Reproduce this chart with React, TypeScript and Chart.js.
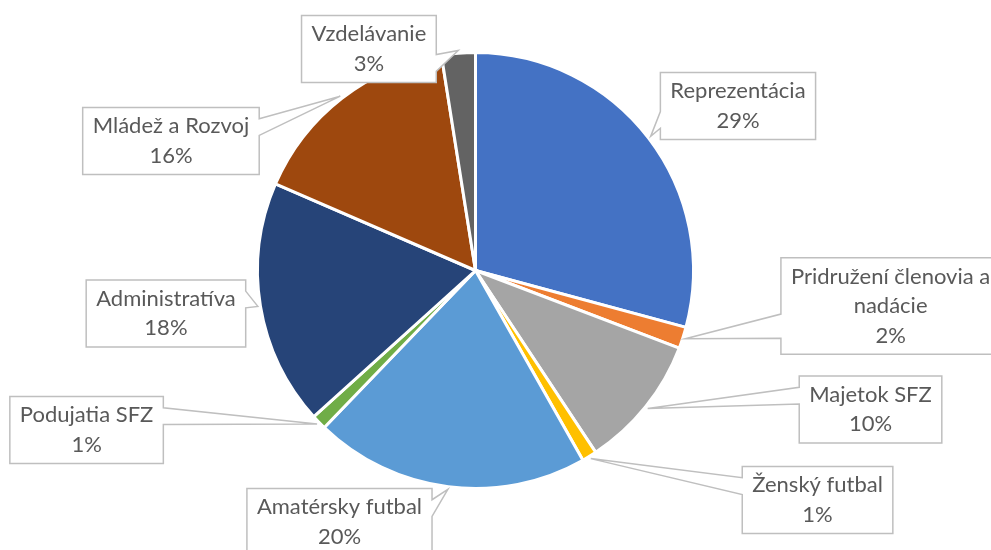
import React, { useEffect, useRef } from "react";
import { Chart, registerables } from "chart.js";

Chart.register(...registerables);

const categories = [
  "Reprezentácia",
  "Pridružení členovia a nadácie",
  "Majetok SFZ",
  "Ženský futbal",
  "Amatérsky futbal",
  "Podujatia SFZ",
  "Administratíva",
  "Mládež a Rozvoj",
  "Vzdelávanie",
];

const shares = [29.2, 1.6, 9.9, 1.1, 20.4, 1.1, 18.2, 16.0, 2.5];

const sliceColors = [
  "#4472C4",
  "#ED7D31",
  "#A5A5A5",
  "#FFC000",
  "#5B9BD5",
  "#70AD47",
  "#264478",
  "#9E480E",
  "#636363",
];

// Callout box centres, as offsets from the pie centre in units of the pie radius
const calloutOffsets = [
  [1.204, -0.755],
  [1.904, 0.163],
  [1.812, 0.638],
  [1.569, 1.053],
  [-0.624, 1.154],
  [-1.784, 0.732],
  [-1.42, 0.197],
  [-1.397, -0.594],
  [-0.489, -1.016],
];

const FONT = "22px Lato, 'Open Sans', sans-serif";
const LINE_H = 29.5;

function wrapText(ctx: CanvasRenderingContext2D, text: string, maxW: number): string[] {
  const words = text.split(" ");
  const lines: string[] = [];
  let cur = "";
  for (const w of words) {
    const test = cur ? cur + " " + w : w;
    if (cur && ctx.measureText(test).width > maxW) {
      lines.push(cur);
      cur = w;
    } else {
      cur = test;
    }
  }
  if (cur) lines.push(cur);
  return lines;
}

function calloutPath(
  ctx: CanvasRenderingContext2D,
  l: number,
  t: number,
  w: number,
  h: number,
  px: number,
  py: number
) {
  const r = l + w;
  const b = t + h;
  const hc = l + w / 2;
  const vc = t + h / 2;
  const dx = px - hc;
  const dy = py - vc;
  const dq = (dx * h) / w;
  const dz = Math.abs(dy) - Math.abs(dq);
  const xg1 = dx > 0 ? 7 : 2;
  const xg2 = dx > 0 ? 10 : 5;
  const x1 = l + (w * xg1) / 12;
  const x2 = l + (w * xg2) / 12;
  const yg1 = dy > 0 ? 7 : 2;
  const yg2 = dy > 0 ? 10 : 5;
  const y1 = t + (h * yg1) / 12;
  const y2 = t + (h * yg2) / 12;
  const xl = dz > 0 ? l : dx > 0 ? l : px;
  const yl = dz > 0 ? y1 : dx > 0 ? y1 : py;
  const xt = dz > 0 ? (dy > 0 ? x1 : px) : x1;
  const yt = dz > 0 ? (dy > 0 ? t : py) : t;
  const xr = dz > 0 ? r : dx > 0 ? px : r;
  const yr = dz > 0 ? y1 : dx > 0 ? py : y1;
  const xb = dz > 0 ? (dy > 0 ? px : x1) : x1;
  const yb = dz > 0 ? (dy > 0 ? py : b) : b;
  ctx.beginPath();
  ctx.moveTo(l, t);
  ctx.lineTo(x1, t);
  ctx.lineTo(xt, yt);
  ctx.lineTo(x2, t);
  ctx.lineTo(r, t);
  ctx.lineTo(r, y1);
  ctx.lineTo(xr, yr);
  ctx.lineTo(r, y2);
  ctx.lineTo(r, b);
  ctx.lineTo(x2, b);
  ctx.lineTo(xb, yb);
  ctx.lineTo(x1, b);
  ctx.lineTo(l, b);
  ctx.lineTo(l, y2);
  ctx.lineTo(xl, yl);
  ctx.lineTo(l, y1);
  ctx.closePath();
}

const calloutPlugin = {
  id: "callouts",
  afterDatasetsDraw(chart: any) {
    const ctx: CanvasRenderingContext2D = chart.ctx;
    const meta = chart.getDatasetMeta(0);
    const values: number[] = chart.data.datasets[0].data;
    const labels: string[] = chart.data.labels;
    const total = values.reduce((a, b) => a + b, 0);
    ctx.save();
    ctx.font = FONT;
    meta.data.forEach((arc: any, i: number) => {
      const p = arc.getProps(["x", "y", "startAngle", "endAngle", "outerRadius"], true);
      const mid = (p.startAngle + p.endAngle) / 2;
      const tipX = p.x + Math.cos(mid) * p.outerRadius * 1.012;
      const tipY = p.y + Math.sin(mid) * p.outerRadius * 1.012;
      const lines = wrapText(ctx, labels[i], 240);
      lines.push(Math.round((values[i] / total) * 100) + "%");
      const maxW = Math.max(...lines.map((s) => ctx.measureText(s).width));
      const w = maxW + 20;
      const h = lines.length * LINE_H + 8;
      const cx = p.x + calloutOffsets[i][0] * p.outerRadius;
      const cy = p.y + calloutOffsets[i][1] * p.outerRadius;
      const l = cx - w / 2;
      const t = cy - h / 2;
      calloutPath(ctx, l, t, w, h, tipX, tipY);
      ctx.fillStyle = "#ffffff";
      ctx.fill();
      ctx.lineWidth = 1.5;
      ctx.strokeStyle = "#BFBFBF";
      ctx.lineJoin = "miter";
      ctx.stroke();
      ctx.fillStyle = "#595959";
      ctx.textAlign = "center";
      ctx.textBaseline = "middle";
      lines.forEach((s, k) => {
        ctx.fillText(s, cx, t + 4 + LINE_H * (k + 0.5));
      });
    });
    ctx.restore();
  },
};

export default function App() {
  const ref = useRef<HTMLCanvasElement | null>(null);
  useEffect(() => {
    if (!ref.current) return;
    const chart = new Chart(ref.current, {
      type: "pie",
      data: {
        labels: categories,
        datasets: [
          {
            data: shares,
            backgroundColor: sliceColors,
            borderColor: "#ffffff",
            borderWidth: 3,
          },
        ],
      },
      options: {
        responsive: false,
        animation: false,
        layout: { padding: { top: 51, bottom: 60, left: 256, right: 296 } },
        plugins: {
          legend: { display: false },
          tooltip: { enabled: false },
          title: { display: false },
        },
      },
      plugins: [calloutPlugin],
    });
    return () => chart.destroy();
  }, []);
  return (
    <div style={{ position: "fixed", left: 0, top: 0, width: 991, height: 550, background: "#fff" }}>
      <canvas ref={ref} width={991} height={550} style={{ display: "block" }} />
    </div>
  );
}
